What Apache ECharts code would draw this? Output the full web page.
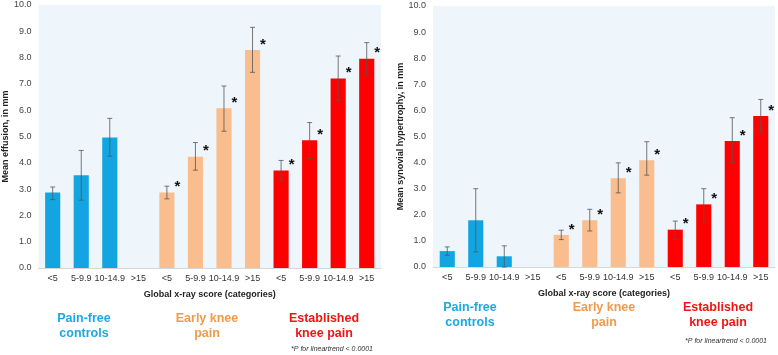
<!DOCTYPE html>
<html>
<head>
<meta charset="utf-8">
<script src="https://cdn.jsdelivr.net/npm/echarts@6/dist/echarts.min.js"></script>
<style>
  html, body { margin: 0; padding: 0; background: #fff; }
  #chart { width: 778px; height: 355px; }
</style>
</head>
<body>
<div id="chart"></div>
<script>
// x-ray score categories, repeated for each group
const xLabels = ['<5', '5-9.9', '10-14.9', '>15'];
const groups = ['Pain-free\ncontrols', 'Early knee\npain', 'Established\nknee pain'];

// left panel: mean effusion (mm) with error bar ends
const effusionMean = [2.87, 3.53, 4.96, null, 2.87, 4.23, 6.07, 8.29, 3.71, 4.86, 7.21, 7.96];
const effusionLow  = [2.6, 2.58, 4.25, null, 2.63, 3.72, 5.2, 7.44, 3.34, 4.16, 6.38, 7.37];
const effusionHigh = [3.08, 4.47, 5.69, null, 3.11, 4.77, 6.92, 9.15, 4.09, 5.53, 8.06, 8.57];

// right panel: mean synovial hypertrophy (mm)
const synovialMean = [0.61, 1.79, 0.41, null, 1.23, 1.79, 3.4, 4.09, 1.43, 2.4, 4.83, 5.79];
const synovialLow  = [0.45, 0.58, 0.0, null, 1.05, 1.38, 2.84, 3.52, 1.06, 1.73, 3.99, 5.18];
const synovialHigh = [0.77, 3.0, 0.81, null, 1.41, 2.21, 3.99, 4.8, 1.76, 3.0, 5.72, 6.42];

// which bars get a "*" (p for linear trend)
const starred = [0, 0, 0, 0, 1, 1, 1, 1, 1, 1, 1, 1];

const yTicks = [0, 10, 1];

const barColors = ['#13a5e1', '#f9bd8e', '#fe0000'];
const textColors = ['#1ea8e2', '#f29a4c', '#ee1515'];
const font = 'Liberation Sans, Arial, sans-serif';

const categories = [];
groups.forEach(() => xLabels.forEach(l => categories.push(l)));

function barSeries(idx, values) {
  return {
    type: 'bar',
    xAxisIndex: idx,
    yAxisIndex: idx,
    barWidth: '53%',
    data: values.map((v, i) => ({
      value: v,
      itemStyle: { color: barColors[Math.floor(i / 4)] },
      label: { show: !!starred[i] }
    })),
    label: {
      formatter: '*',
      position: ['100%', -13],
      offset: [0, 0],
      color: '#111',
      fontSize: 15,
      fontWeight: 'bold',
      fontFamily: font
    },
    z: 2
  };
}

function errorSeries(idx, low, high) {
  const data = [];
  low.forEach((v, i) => {
    if (v != null) data.push([i, v, high[i]]);
  });
  return {
    type: 'custom',
    xAxisIndex: idx,
    yAxisIndex: idx,
    data: data,
    z: 3,
    renderItem(params, api) {
      const lo = api.coord([api.value(0), api.value(1)]);
      const hi = api.coord([api.value(0), api.value(2)]);
      const w = 2.5;
      const style = { stroke: '#555', lineWidth: 0.8 };
      return {
        type: 'group',
        children: [
          { type: 'line', shape: { x1: lo[0], y1: lo[1], x2: hi[0], y2: hi[1] }, style },
          { type: 'line', shape: { x1: hi[0] - w, y1: hi[1], x2: hi[0] + w, y2: hi[1] }, style },
          { type: 'line', shape: { x1: lo[0] - w, y1: lo[1], x2: lo[0] + w, y2: lo[1] }, style }
        ]
      };
    }
  };
}

function xAxis(idx) {
  return {
    type: 'category',
    gridIndex: idx,
    data: categories,
    name: 'Global x-ray score (categories)',
    nameLocation: 'middle',
    nameGap: 22,
    nameTextStyle: { fontSize: 9, fontWeight: 'bold', color: '#222', fontFamily: font },
    axisLine: { lineStyle: { color: '#d8d8d8' } },
    axisTick: { show: false },
    axisLabel: { fontSize: 9, color: '#333', margin: 6, interval: 0, fontFamily: font }
  };
}

function yAxis(idx, name, gap) {
  return {
    type: 'value',
    gridIndex: idx,
    min: yTicks[0],
    max: yTicks[1],
    interval: yTicks[2],
    name: name,
    nameLocation: 'middle',
    nameGap: gap,
    nameTextStyle: { fontSize: 9, fontWeight: 'bold', color: '#222', fontFamily: font },
    axisLine: { show: false },
    axisTick: { show: false },
    splitLine: { show: false },
    axisLabel: { fontSize: 9, color: '#444', margin: 7, fontFamily: font, formatter: v => v.toFixed(1) }
  };
}

function groupTexts(centers, y) {
  return centers.map((cx, i) => ({
    type: 'text',
    x: cx,
    y: y,
    style: {
      text: groups[i],
      fill: textColors[i],
      font: 'bold 12.5px ' + font,
      align: 'center',
      lineHeight: 15
    }
  }));
}

const chart = echarts.init(document.getElementById('chart'));
chart.setOption({
  animation: false,
  grid: [
    { left: 37, top: 5, width: 344, height: 263, show: true, backgroundColor: '#eef6fb', borderWidth: 0 },
    { left: 433, top: 6, width: 342, height: 261, show: true, backgroundColor: '#eef6fb', borderWidth: 0 }
  ],
  xAxis: [xAxis(0), xAxis(1)],
  yAxis: [yAxis(0, 'Mean effusion, in mm', 26), yAxis(1, 'Mean synovial hypertrophy, in mm', 28)],
  series: [
    barSeries(0, effusionMean),
    errorSeries(0, effusionLow, effusionHigh),
    barSeries(1, synovialMean),
    errorSeries(1, synovialLow, synovialHigh)
  ],
  graphic: [
    ...groupTexts([84, 207, 324], 311),
    ...groupTexts([470, 604, 718], 300),
    {
      type: 'text', x: 373, y: 346,
      style: { text: '*P for lineartrend < 0.0001', fill: '#333', font: 'italic 7px ' + font, align: 'right' }
    },
    {
      type: 'text', x: 767, y: 338,
      style: { text: '*P for lineartrend < 0.0001', fill: '#333', font: 'italic 7px ' + font, align: 'right' }
    }
  ]
});
</script>
</body>
</html>
